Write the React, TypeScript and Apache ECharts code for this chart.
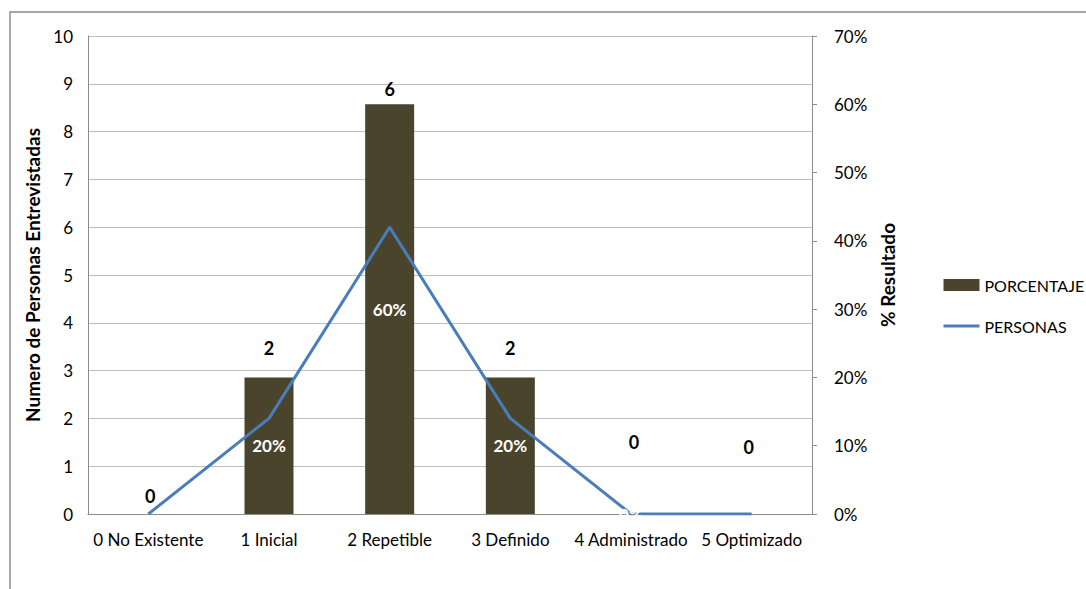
import React, { useEffect, useRef } from "react";
import * as echarts from "echarts";

// Maturity levels on the category axis
const categories = [
  "0 No Existente",
  "1 Inicial",
  "2 Repetible",
  "3 Definido",
  "4 Administrado",
  "5 Optimizado",
];

// Number of people interviewed per level (left axis)
const personas = [0, 2, 6, 2, 0, 0];

// Share of interviewees per level (right axis, fraction of 1)
const porcentaje = [0, 0.2, 0.6, 0.2, 0, 0];

// Axis ranges
const leftAxisMax = 10;
const leftAxisStep = 1;
const rightAxisMax = 0.7;
const rightAxisStep = 0.1;

const FONT = "Lato, 'Noto Sans', sans-serif";
const BAR_COLOR = "#4A442D";
const LINE_COLOR = "#4A7EBB";
const GRID_COLOR = "#BFBFBF";
const AXIS_COLOR = "#8C8C8C";
const BAR_WIDTH = 49;

// Placement of the count labels drawn over each bar
const countLabelLayout = [
  { distance: 9, dx: 2 },
  { distance: 20, dx: 0 },
  { distance: 6, dx: 0 },
  { distance: 20, dx: 0 },
  { distance: 63, dx: 3 },
  { distance: 58, dx: -3 },
];

// Percentage labels inside the bars: hidden where they would sit on white
const showPctLabel = [false, true, true, true, true, false];

const pct = (v: number) => `${Math.round(v * 100)}%`;

export default function App() {
  const ref = useRef<HTMLDivElement>(null);

  useEffect(() => {
    document.body.style.margin = "0";
    if (!ref.current) return;
    const chart = echarts.init(ref.current, null, { renderer: "svg" });

    const option: echarts.EChartsOption = {
      animation: false,
      backgroundColor: "#FFFFFF",
      textStyle: { fontFamily: FONT },
      graphic: [
        {
          type: "rect",
          shape: { x: 10, y: 12, width: 1200, height: 700 },
          style: { fill: "none", stroke: AXIS_COLOR, lineWidth: 1.5 },
          silent: true,
          z: -10,
        },
      ],
      grid: { left: 88, right: 274, top: 36, bottom: 75, containLabel: false },
      legend: {
        orient: "vertical",
        left: 942,
        top: 277,
        padding: 0,
        itemWidth: 36,
        itemHeight: 12,
        itemGap: 25,
        data: [
          { name: "PORCENTAJE", icon: "rect" },
          { name: "PERSONAS", itemStyle: { opacity: 0 }, lineStyle: { color: LINE_COLOR, width: 3 } },
        ],
        textStyle: { fontFamily: FONT, fontSize: 16, color: "#000" },
      },
      xAxis: {
        type: "category",
        data: categories,
        boundaryGap: true,
        axisLine: { show: true, lineStyle: { color: AXIS_COLOR, width: 1 } },
        axisTick: { show: false },
        axisLabel: { fontFamily: FONT, fontSize: 17, color: "#000", margin: 17, interval: 0 },
      },
      yAxis: [
        {
          type: "value",
          min: 0,
          max: leftAxisMax,
          interval: leftAxisStep,
          name: "Numero de Personas Entrevistadas",
          nameLocation: "middle",
          nameGap: 38,
          nameRotate: 90,
          nameTextStyle: { fontFamily: FONT, fontSize: 19, fontWeight: "bold", color: "#000" },
          axisLine: { show: true, lineStyle: { color: AXIS_COLOR, width: 1 } },
          axisTick: { show: false },
          axisLabel: { fontFamily: FONT, fontSize: 17, color: "#000", margin: 15 },
          splitLine: { show: true, lineStyle: { color: GRID_COLOR, width: 1 } },
        },
        {
          type: "value",
          min: 0,
          max: rightAxisMax,
          interval: rightAxisStep,
          position: "right",
          name: "% Resultado",
          nameLocation: "middle",
          nameGap: 59,
          nameRotate: 90,
          nameTextStyle: { fontFamily: FONT, fontSize: 19, fontWeight: "bold", color: "#000" },
          axisLine: { show: true, lineStyle: { color: AXIS_COLOR, width: 1 } },
          axisTick: { show: true, inside: false, length: 5, lineStyle: { color: AXIS_COLOR } },
          axisLabel: { fontFamily: FONT, fontSize: 17, color: "#000", margin: 22, formatter: (v: number) => pct(v) },
          splitLine: { show: false },
        },
      ],
      series: [
        {
          name: "PORCENTAJE",
          type: "bar",
          yAxisIndex: 1,
          barWidth: BAR_WIDTH,
          barGap: "-100%",
          itemStyle: { color: BAR_COLOR },
          data: porcentaje,
          z: 2,
        },
        {
          // transparent twin of the bars, carrying the people count above each bar
          name: "conteo",
          type: "bar",
          yAxisIndex: 1,
          barWidth: BAR_WIDTH,
          barGap: "-100%",
          itemStyle: { color: "rgba(0,0,0,0)" },
          silent: true,
          data: porcentaje.map((v, i) => ({
            value: v,
            label: {
              show: true,
              position: "top",
              distance: countLabelLayout[i].distance,
              offset: [countLabelLayout[i].dx, 0],
              formatter: String(personas[i]),
              color: "#000",
              fontFamily: FONT,
              fontSize: 18,
              fontWeight: "bold",
            },
          })),
          z: 1,
        },
        {
          name: "PERSONAS",
          type: "line",
          yAxisIndex: 0,
          data: personas,
          symbol: "none",
          lineStyle: { color: LINE_COLOR, width: 3 },
          itemStyle: { color: LINE_COLOR },
          z: 3,
        },
        {
          // transparent twin drawn above the line, carrying the white percentage labels
          name: "etiquetas",
          type: "bar",
          yAxisIndex: 1,
          barWidth: BAR_WIDTH,
          barGap: "-100%",
          itemStyle: { color: "rgba(0,0,0,0)" },
          silent: true,
          data: porcentaje.map((v, i) => ({
            value: v,
            label: {
              show: showPctLabel[i],
              position: "inside",
              formatter: pct(v),
              color: "#FFFFFF",
              fontFamily: FONT,
              fontSize: 17,
              fontWeight: "bold",
            },
          })),
          z: 4,
        },
      ],
    };

    chart.setOption(option);
    return () => chart.dispose();
  }, []);

  return <div ref={ref} style={{ width: 1086, height: 589 }} />;
}
